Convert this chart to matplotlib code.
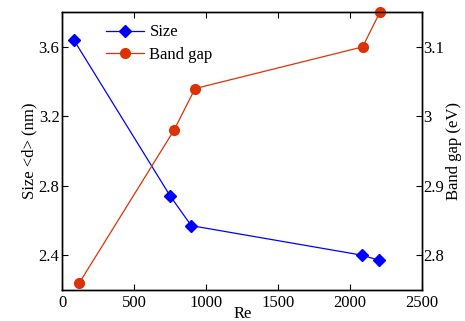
import numpy as np
import matplotlib
matplotlib.use('Agg')
import matplotlib.pyplot as plt

plt.rcParams['font.family'] = ['Liberation Serif', 'DejaVu Serif']
plt.rcParams['font.size'] = 12
plt.rcParams['xtick.direction'] = 'in'
plt.rcParams['ytick.direction'] = 'in'

# data
re_size = [80, 750, 896, 2081, 2203]
size_nm = [3.64, 2.74, 2.57, 2.40, 2.37]
re_gap = [118, 776, 922, 2086, 2206]
band_gap = [2.76, 2.98, 3.04, 3.10, 3.15]

x_ticks = [0, 500, 1000, 1500, 2000, 2500]
size_ticks = [2.4, 2.8, 3.2, 3.6]
gap_ticks = [2.8, 2.9, 3.0, 3.1]
gap_labels = ['2.8', '2.9', '3', '3.1']

BLUE = '#0000ff'
RED = '#dc3208'

fig = plt.figure(figsize=(4.65, 3.21), dpi=100)
ax = fig.add_axes([0.134, 0.097, 0.774, 0.865])
ax2 = ax.twinx()

l1, = ax.plot(re_size, size_nm, color=BLUE, lw=0.9, marker='D', ms=6,
              label='Size')
l2, = ax2.plot(re_gap, band_gap, color=RED, lw=0.9, marker='o', ms=7,
               label='Band gap', clip_on=False)

ax.set_xlim(0, 2500)
ax.set_ylim(2.2, 3.8)
ax2.set_ylim(2.75, 3.15)
ax.set_xticks(x_ticks)
ax.set_xticklabels([str(t) for t in x_ticks])
ax.set_yticks(size_ticks)
ax.set_yticklabels(['2.4', '2.8', '3.2', '3.6'])
ax2.set_yticks(gap_ticks)
ax2.set_yticklabels(gap_labels)

ax.tick_params(axis='x', top=True, length=4, width=0.8, pad=4)
ax.tick_params(axis='y', right=False, length=4, width=0.8, pad=2)
ax2.tick_params(axis='y', length=4, width=0.8, pad=1)

for a in (ax, ax2):
    for s in a.spines.values():
        s.set_linewidth(1.0)

ax.set_xlabel('Re', labelpad=-4)
ax.set_ylabel('Size <d> (nm)', labelpad=1)
ax2.set_ylabel('Band gap (eV)', labelpad=1)

ax.legend([l1, l2], ['Size', 'Band gap'], loc='upper left', frameon=False,
          bbox_to_anchor=(0.08, 1.01), handlelength=2.3, handletextpad=0.3,
          labelspacing=0.4)

fig.savefig('out.png', dpi=100)
